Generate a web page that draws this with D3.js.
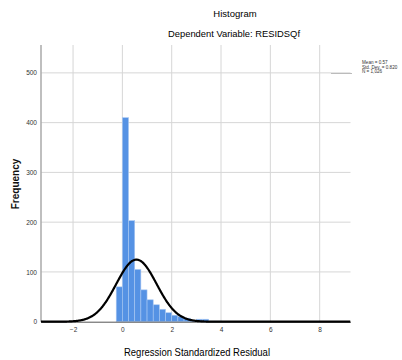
<!DOCTYPE html>
<html>
<head>
<meta charset="utf-8">
<script src="https://cdn.jsdelivr.net/npm/d3@7/dist/d3.min.js"></script>
<style>
  html, body { margin: 0; padding: 0; background: #fff; }
  svg { display: block; font-family: "Liberation Sans", Arial, sans-serif; }
</style>
</head>
<body>
<svg id="chart" width="402" height="360"></svg>
<script>
// Histogram bins (lower edge, width 0.25) and frequencies
const binStarts = [-0.25, 0, 0.25, 0.5, 0.75, 1.0, 1.25, 1.5, 1.75, 2.0, 2.25, 2.5, 2.75, 3.0, 3.25, 3.5, 3.75];
const binCounts = [70, 410, 203, 105, 64, 44, 34, 25, 18, 13, 10, 7, 3, 5, 5, 1, 1];
const binWidth = 0.25;

// Summary statistics for the fitted normal curve
const statMean = 0.57;
const statSD = 0.820;
const statN = 1026;
const statLabels = ["Mean = 0.57", "Std. Dev. = 0.820", "N = 1,026"];

const xTicks = [-2, 0, 2, 4, 6, 8];
const yTicks = [0, 100, 200, 300, 400, 500];

const svg = d3.select("#chart");
const plot = { left: 41, right: 350.5, top: 45, bottom: 321.7 };

const x = d3.scaleLinear().domain([-3.3, 9.25]).range([plot.left, plot.right]);
const y = d3.scaleLinear().domain([0, 556]).range([plot.bottom, plot.top]);

// Grid lines
const grid = svg.append("g");
grid.selectAll(".hg").data(yTicks.filter(d => d > 0)).enter().append("line")
  .attr("x1", plot.left).attr("x2", plot.right)
  .attr("y1", d => y(d)).attr("y2", d => y(d))
  .attr("stroke", "#d6d6d6").attr("stroke-width", 1);
grid.selectAll(".vg").data(xTicks).enter().append("line")
  .attr("x1", d => x(d)).attr("x2", d => x(d))
  .attr("y1", plot.top).attr("y2", plot.bottom)
  .attr("stroke", "#d6d6d6").attr("stroke-width", 1);

// Bars
svg.append("g").selectAll("rect").data(binStarts).enter().append("rect")
  .attr("x", d => x(d))
  .attr("width", x(binWidth) - x(0))
  .attr("y", (d, i) => y(binCounts[i]))
  .attr("height", (d, i) => y(0) - y(binCounts[i]))
  .attr("fill", "#5592e4")
  .attr("stroke", "#a9c8f2")
  .attr("stroke-width", 0.6);

// Axes
const yAxis = d3.axisLeft(y).tickValues(yTicks).tickSize(0).tickPadding(4);
const gy = svg.append("g").attr("transform", `translate(${plot.left},0)`).call(yAxis);
gy.select(".domain").attr("stroke", "#aaaaaa").attr("stroke-width", 1.5)
  .attr("d", `M0,${plot.top}V${plot.bottom}`);
gy.selectAll("text").attr("font-size", 6.5).attr("fill", "#333");

const xAxis = d3.axisBottom(x).tickValues(xTicks).tickSize(0).tickPadding(6);
const gx = svg.append("g").attr("transform", `translate(0,${plot.bottom})`).call(xAxis);
gx.select(".domain").attr("stroke", "#555").attr("stroke-width", 1);
gx.selectAll("text").attr("font-size", 6.5).attr("fill", "#333");

// Normal curve scaled to counts per bin
const scale = statN * binWidth / (statSD * Math.sqrt(2 * Math.PI));
const curvePts = d3.range(-3.3, 9.251, 0.02).map(v => [v, scale * Math.exp(-0.5 * Math.pow((v - statMean) / statSD, 2))]);
svg.append("path").datum(curvePts)
  .attr("d", d3.line().x(d => x(d[0])).y(d => y(d[1])))
  .attr("fill", "none").attr("stroke", "#000").attr("stroke-width", 2.2);

// Titles
svg.append("text").attr("x", 235).attr("y", 17).attr("text-anchor", "middle")
  .attr("font-size", 9.5).attr("fill", "#000").text("Histogram");
svg.append("text").attr("x", 234).attr("y", 37).attr("text-anchor", "middle")
  .attr("font-size", 9.5).attr("fill", "#000")
  .attr("textLength", 132).attr("lengthAdjust", "spacingAndGlyphs")
  .text("Dependent Variable: RESIDSQf");
svg.append("text").attr("x", 197).attr("y", 356).attr("text-anchor", "middle")
  .attr("font-size", 10.5).attr("fill", "#000")
  .attr("textLength", 146).attr("lengthAdjust", "spacingAndGlyphs")
  .text("Regression Standardized Residual");
svg.append("text").attr("transform", "translate(19,184) rotate(-90)").attr("text-anchor", "middle")
  .attr("font-size", 10).attr("font-weight", "bold").attr("fill", "#111").text("Frequency");

// Statistics legend
svg.append("line").attr("x1", 331).attr("x2", 352).attr("y1", 73.5).attr("y2", 73.5)
  .attr("stroke", "#bbb").attr("stroke-width", 1);
svg.append("g").selectAll("text").data(statLabels).enter().append("text")
  .attr("x", 362).attr("y", (d, i) => 64 + i * 4.5)
  .attr("font-size", 4.6).attr("fill", "#333").text(d => d);
</script>
</body>
</html>
